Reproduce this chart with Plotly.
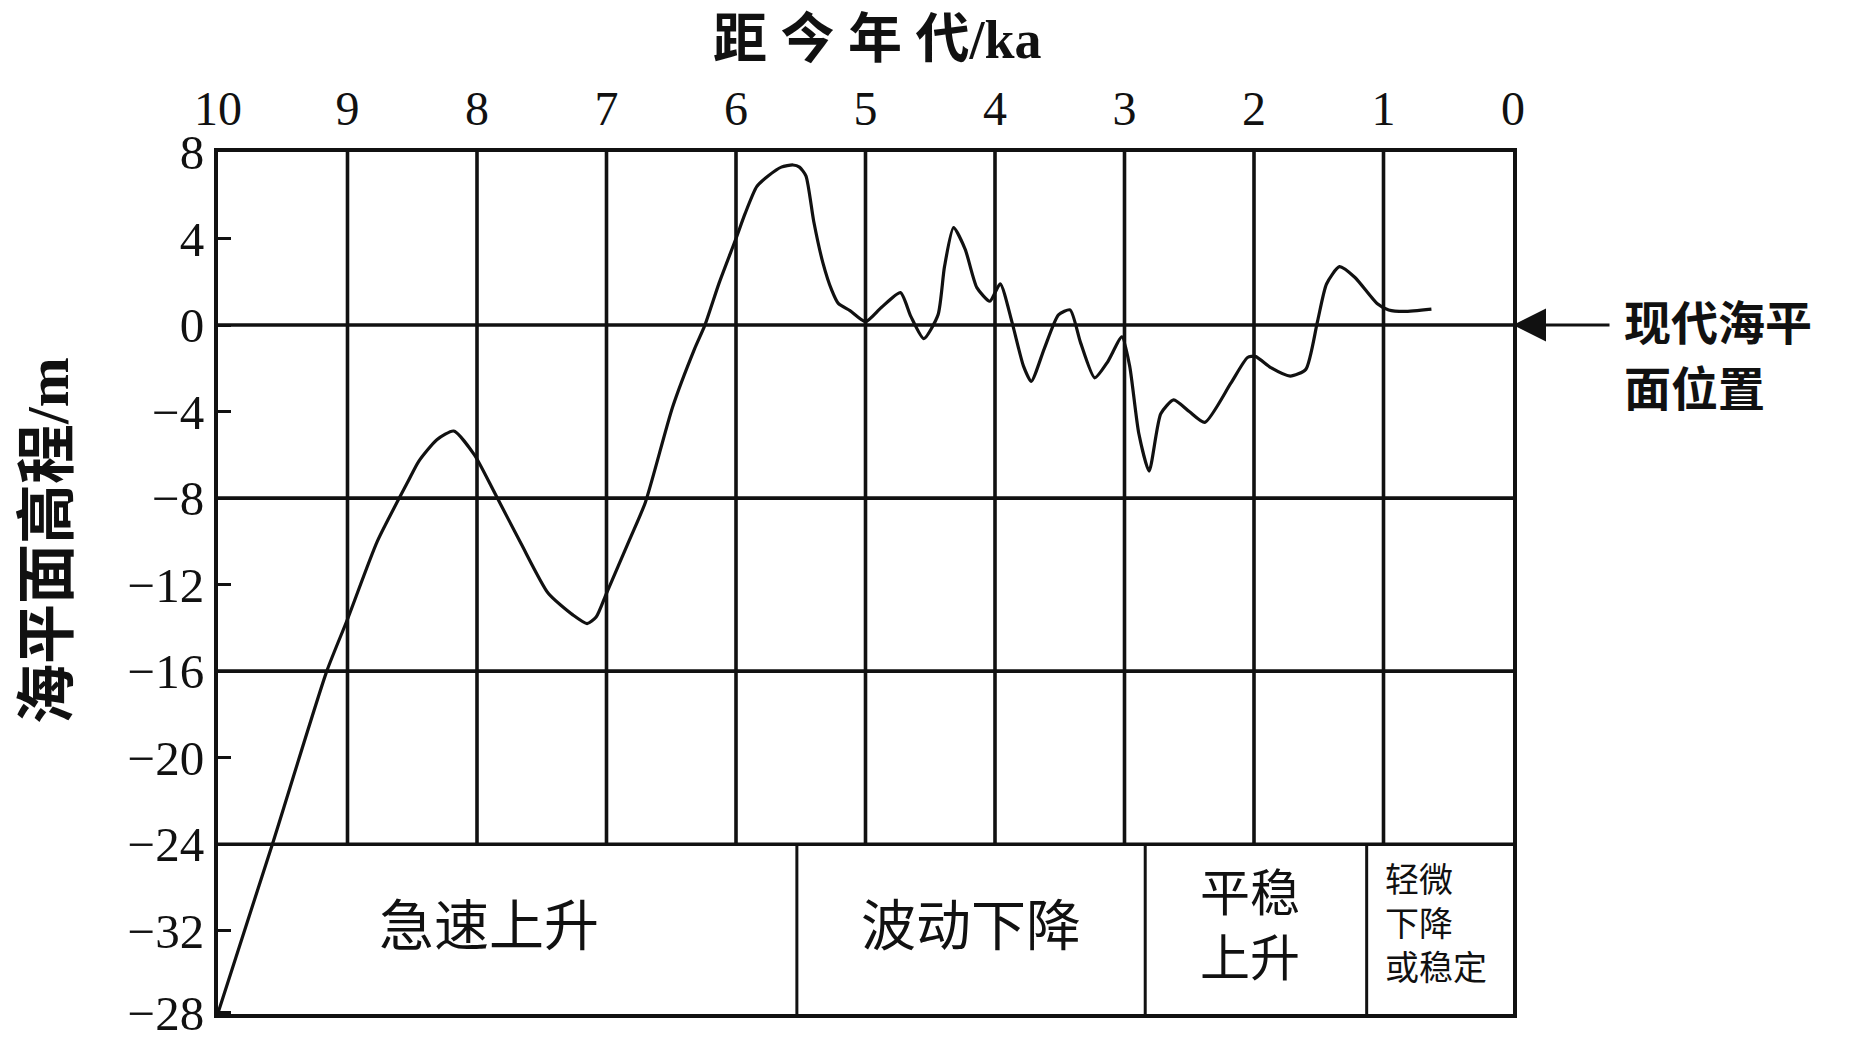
"""Holocene sea-level curve (距今年代 vs 海平面高程) redrawn with Plotly."""
import plotly.graph_objects as go

# curve
age_ka = [10.0, 9.58, 9.16, 9.0, 8.77, 8.53, 8.45, 8.31, 8.18, 8.02, 7.86, 7.66,
          7.45, 7.26, 7.15, 7.08, 7.0, 6.82, 6.70, 6.49, 6.32, 6.24, 6.13, 6.0,
          5.93, 5.84, 5.75, 5.65, 5.56, 5.51, 5.46, 5.40, 5.33, 5.26, 5.21, 5.12,
          5.0, 4.88, 4.73, 4.65, 4.55, 4.44, 4.39, 4.32, 4.23, 4.14, 4.04, 3.96,
          3.87, 3.78, 3.72, 3.62, 3.51, 3.42, 3.34, 3.23, 3.13, 3.02, 2.96, 2.89,
          2.81, 2.72, 2.62, 2.50, 2.38, 2.18, 2.05, 1.99, 1.87, 1.72, 1.60, 1.51,
          1.44, 1.34, 1.22, 1.05, 0.96, 0.84, 0.63]
sea_level_m = [-31.8, -24.0, -16.0, -13.6, -10.0, -7.2, -6.3, -5.3, -4.9, -6.0, -7.8, -10.1,
               -12.4, -13.4, -13.8, -13.5, -12.4, -9.9, -8.2, -3.8, -1.1, 0.0, 1.95, 4.0,
               5.15, 6.4, 6.9, 7.3, 7.4, 7.3, 6.9, 4.8, 2.9, 1.6, 1.0, 0.67,
               0.16, 0.8, 1.5, 0.4, -0.63, 0.47, 2.7, 4.5, 3.5, 1.73, 1.1, 1.9,
               0.16, -1.9, -2.6, -1.1, 0.47, 0.7, -0.8, -2.44, -1.7, -0.55, -1.9, -5.0,
               -6.75, -4.1, -3.46, -4.0, -4.5, -2.7, -1.5, -1.45, -1.97, -2.36, -2.05, 0.16,
               1.9, 2.7, 2.2, 1.0, 0.7, 0.63, 0.74]

# axes
x_ticks = list(range(0, 11))
y_bottom = -31.85
y_ticks = [8, 4, 0, -4, -8, -12, -16, -20, -24, -28, -31.8]
y_tick_text = ['8', '4', '0', '−4', '−8', '−12', '−16', '−20', '−24', '−32', '−28']
h_lines = [0, -8, -16, -24]
table_top = -24

# phase table under the curve
phase_bounds = [10, 5.53, 2.84, 1.13, 0]
phase_names = ['急速上升', '波动下降', '平稳<br>上升', '轻微<br>下降<br>或稳定']
phase_sizes = [55, 55, 50, 34]
phase_shift = [-18, 0, -6, 0]
phase_left = [False, False, False, True]

# label next to the arrow, one entry per line
sea_label = ['现代海平', '面位置']

# the page body adds an 8px offset, margins compensate for it
PAD = 8
INK = '#111111'
SERIF = 'Liberation Serif, Noto Sans CJK SC, serif'
CJK = 'Noto Sans CJK SC, Liberation Serif, sans-serif'
W, H = 1864, 1041
L, R, T, B = 218, 1513, 152, 1014   # plot box in screen pixels


def px(xs):
    return (xs - L) / (R - L)


def py(ys):
    return (B - ys) / (B - T)


fig = go.Figure()
fig.add_trace(go.Scatter(
    x=age_ka, y=sea_level_m, mode='lines', cliponaxis=False,
    line=dict(color=INK, width=3.2, shape='spline', smoothing=0.6),
    hoverinfo='skip', showlegend=False))

shapes = []
for k in x_ticks[1:-1]:
    shapes.append(dict(type='line', xref='x', yref='y', x0=k, x1=k, y0=table_top, y1=8,
                       line=dict(color=INK, width=3.6)))
for h in h_lines:
    shapes.append(dict(type='line', xref='x', yref='y', x0=10, x1=0, y0=h, y1=h,
                       line=dict(color=INK, width=3.6)))
for b in phase_bounds[1:-1]:
    shapes.append(dict(type='line', xref='x', yref='y', x0=b, x1=b, y0=y_bottom, y1=table_top,
                       line=dict(color=INK, width=3)))

annotations = []
mid_y = (table_top + y_bottom) / 2
for i, name in enumerate(phase_names):
    a = dict(y=mid_y, xref='x', yref='y', yanchor='middle', showarrow=False,
             text=name, align='left', yshift=8,
             font=dict(family=CJK, size=phase_sizes[i], color=INK))
    if phase_left[i]:
        a.update(x=phase_bounds[i], xanchor='left', xshift=16)
    else:
        a.update(x=(phase_bounds[i] + phase_bounds[i + 1]) / 2, xanchor='center',
                 xshift=phase_shift[i])
    annotations.append(a)

# arrow marking present sea level
annotations.append(dict(x=0, y=0, xref='x', yref='y', ax=98, ay=0, text='',
                        showarrow=True, arrowhead=2, arrowsize=2.2, arrowwidth=3,
                        arrowcolor=INK, standoff=0))
for j, txt in enumerate(sea_label):
    annotations.append(dict(x=px(1622), y=0, xref='paper', yref='y', xanchor='left',
                            yanchor='middle', yshift=6 - j * 66, showarrow=False,
                            text=f'<b>{txt}</b>',
                            font=dict(family=CJK, size=47, color=INK)))
# axis titles
annotations.append(dict(x=px(877), y=py(40), xref='paper', yref='paper',
                        xanchor='center', yanchor='middle', showarrow=False,
                        text='<b>距 今 年 代/ka</b>',
                        font=dict(family=SERIF, size=54, color=INK)))
annotations.append(dict(x=px(48), y=py(541), xref='paper', yref='paper',
                        xanchor='center', yanchor='middle',
                        textangle=-90, showarrow=False, text='<b>海平面高程/m</b>',
                        font=dict(family=SERIF, size=60, color=INK)))

fig.update_layout(
    width=W, height=H,
    paper_bgcolor='white', plot_bgcolor='white',
    margin=dict(l=L - PAD, r=W + PAD - R, t=T - PAD, b=H + PAD - B),
    shapes=shapes, annotations=annotations,
    xaxis=dict(side='top', range=[10, 0], tickvals=x_ticks, ticks='',
               showline=True, mirror=True, linecolor=INK, linewidth=4,
               showgrid=False, zeroline=False, ticklabelstandoff=4, automargin=False,
               tickfont=dict(family=SERIF, size=48, color=INK)),
    yaxis=dict(range=[y_bottom, 8], tickvals=y_ticks, ticktext=y_tick_text,
               ticks='inside', ticklen=13, tickwidth=3, tickcolor=INK,
               showline=True, mirror=True, linecolor=INK, linewidth=4,
               showgrid=False, zeroline=False, automargin=False,
               tickfont=dict(family=SERIF, size=49, color=INK)),
)

fig.write_html("out.html")
